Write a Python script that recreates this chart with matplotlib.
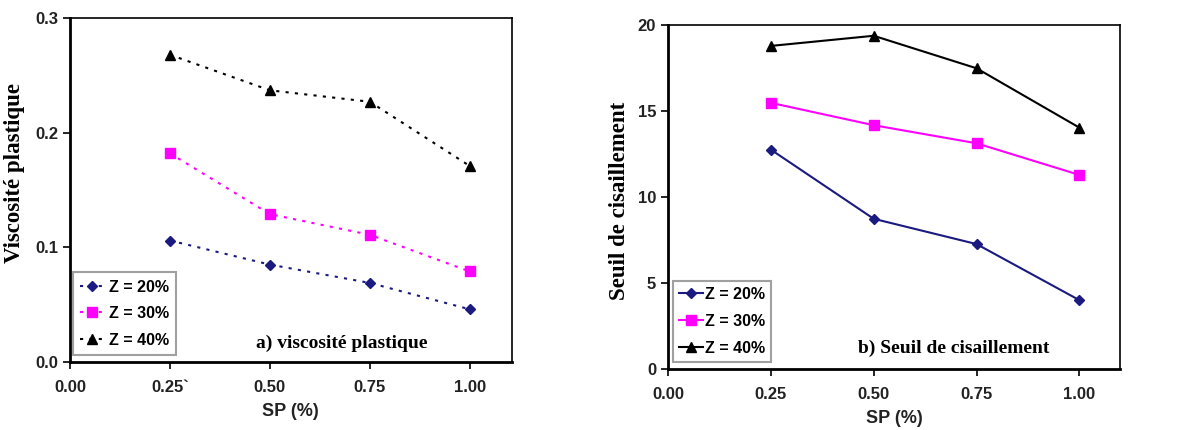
import matplotlib.pyplot as plt

# data
sp = [0.25, 0.50, 0.75, 1.00]

visc_z20 = [0.106, 0.085, 0.069, 0.046]
visc_z30 = [0.182, 0.129, 0.111, 0.079]
visc_z40 = [0.268, 0.237, 0.227, 0.171]

seuil_z20 = [12.75, 8.73, 7.26, 4.0]
seuil_z30 = [15.47, 14.17, 13.12, 11.28]
seuil_z40 = [18.78, 19.37, 17.48, 14.03]

labels = ['Z = 20%', 'Z = 30%', 'Z = 40%']
colors = ['#1a1a80', '#ff00ff', 'black']
markers = ['D', 's', '^']
msizes = [5, 7, 7]

xticks = [0.0, 0.25, 0.50, 0.75, 1.00]
xticklabels = ['0.00', '0.25`', '0.50', '0.75', '1.00']
xticklabels_b = ['0.00', '0.25', '0.50', '0.75', '1.00']

sans = 'Liberation Sans'
serif = 'Liberation Serif'


def style_axes(ax):
    for s in ['left', 'bottom']:
        ax.spines[s].set_linewidth(2.0)
    for s in ['top', 'right']:
        ax.spines[s].set_linewidth(1.2)
    ax.tick_params(direction='out', length=5, width=1.2, labelsize=12, colors='black')
    ax.tick_params(axis='x', pad=8)
    for t in ax.get_xticklabels() + ax.get_yticklabels():
        t.set_fontfamily(sans)
        t.set_fontweight('bold')
        t.set_color('#222222')


fig = plt.figure(figsize=(11.94, 4.3), dpi=100)

# a) viscosite plastique
ax1 = fig.add_axes([0.0586, 0.158, 0.370, 0.800])
for y, lab, c, m, ms in zip([visc_z20, visc_z30, visc_z40], labels, colors, markers, msizes):
    ax1.plot(sp, y, linestyle=(0, (1.5, 3)), lw=1.5, color=c, marker=m, markersize=ms, label=lab)
ax1.set_xlim(0, 1.105)
ax1.set_ylim(0, 0.3)
ax1.set_xticks(xticks)
ax1.set_xticklabels(xticklabels)
ax1.set_yticks([0.0, 0.1, 0.2, 0.3])
ax1.set_yticklabels(['0.0', '0.1', '0.2', '0.3'])
style_axes(ax1)
ax1.set_xlabel('SP (%)', fontsize=13, fontweight='bold', family=sans, color='#222222', labelpad=6)
ax1.set_ylabel('Viscosité plastique', fontsize=16.5, fontweight='bold', family=serif)
ax1.yaxis.set_label_coords(-0.102, 0.55)
leg = ax1.legend(loc='lower left', bbox_to_anchor=(0.0, 0.012), fancybox=False, edgecolor='#888888',
                 prop={'family': sans, 'weight': 'bold', 'size': 11.5}, handlelength=1.4,
                 borderpad=0.45, labelspacing=0.72, handletextpad=0.4, borderaxespad=0.2)
leg.get_frame().set_linewidth(1.5)
ax1.text(0.42, 0.055, 'a) viscosité plastique', transform=ax1.transAxes, fontsize=14,
         fontweight='bold', family=serif, va='center')

# b) seuil de cisaillement
ax2 = fig.add_axes([0.5595, 0.142, 0.3786, 0.800])
for y, lab, c, m, ms in zip([seuil_z20, seuil_z30, seuil_z40], labels, colors, markers, msizes):
    ax2.plot(sp, y, linestyle='-', lw=1.5, color=c, marker=m, markersize=ms, label=lab)
ax2.set_xlim(0, 1.099)
ax2.set_ylim(0, 20)
ax2.set_xticks(xticks)
ax2.set_xticklabels(xticklabels_b)
ax2.set_yticks([0, 5, 10, 15, 20])
style_axes(ax2)
ax2.set_xlabel('SP (%)', fontsize=13, fontweight='bold', family=sans, color='#222222', labelpad=6)
ax2.set_ylabel('Seuil de cisaillement', fontsize=16.5, fontweight='bold', family=serif)
ax2.yaxis.set_label_coords(-0.085, 0.49)
leg2 = ax2.legend(loc='lower left', bbox_to_anchor=(0.0, 0.005), fancybox=False, edgecolor='#888888',
                  prop={'family': sans, 'weight': 'bold', 'size': 11.5}, handlelength=1.5,
                  borderpad=0.4, labelspacing=0.75, handletextpad=0.1, borderaxespad=0.3)
leg2.get_frame().set_linewidth(1.5)
ax2.text(0.42, 0.06, 'b) Seuil de cisaillement', transform=ax2.transAxes, fontsize=14,
         fontweight='bold', family=serif, va='center')

fig.savefig('out.png', dpi=100)
